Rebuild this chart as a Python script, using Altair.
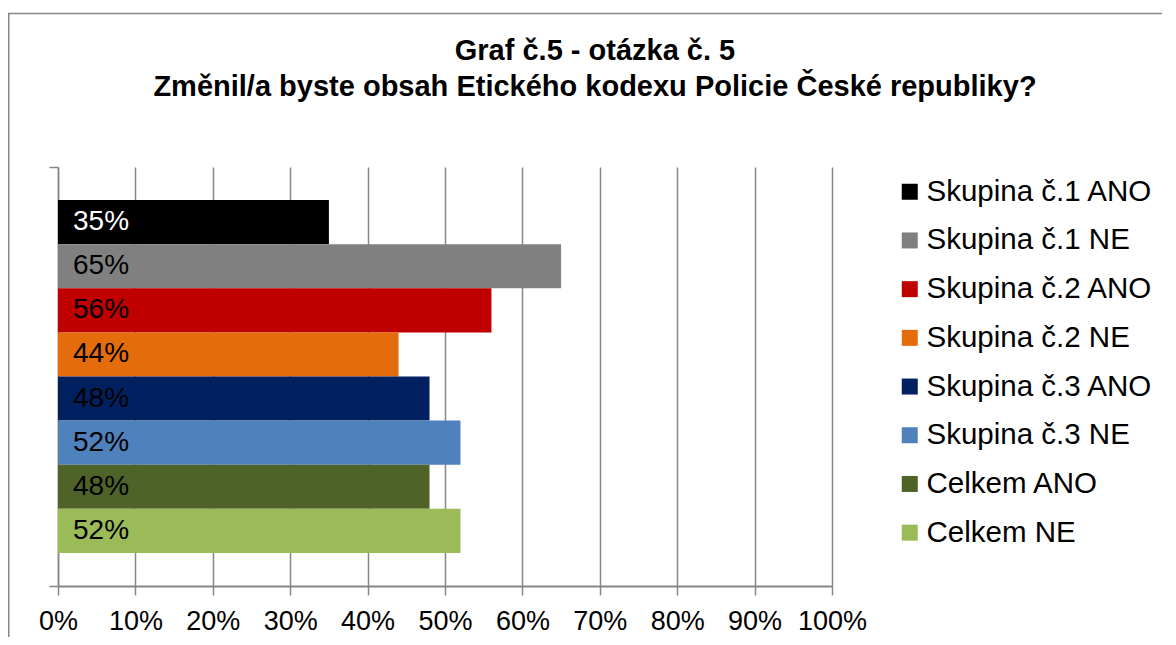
import altair as alt
import pandas as pd

# ---- data ----
category = ["Otázka č. 5"]
series = [
    "Skupina č.1 ANO", "Skupina č.1 NE",
    "Skupina č.2 ANO", "Skupina č.2 NE",
    "Skupina č.3 ANO", "Skupina č.3 NE",
    "Celkem ANO", "Celkem NE",
]
values = [0.35, 0.65, 0.56, 0.44, 0.48, 0.52, 0.48, 0.52]
labels = ["35%", "65%", "56%", "44%", "48%", "52%", "48%", "52%"]
bar_colors = ["#000000", "#808080", "#C00000", "#E46C0A",
              "#002060", "#4F81BD", "#4F6228", "#9BBB59"]
label_colors = ["#FFFFFF", "#000000", "#000000", "#000000",
                "#000000", "#000000", "#000000", "#000000"]
x_ticks = [0, 0.1, 0.2, 0.3, 0.4, 0.5, 0.6, 0.7, 0.8, 0.9, 1.0]
title_lines = ["Graf č.5 - otázka č. 5",
               "Změnil/a byste obsah Etického kodexu Policie České republiky?"]

FONT = "Liberation Sans"
GRID = "#868686"

df = pd.DataFrame({
    "cat": category * len(series),
    "series": series,
    "value": values,
    "label": labels,
    "lc": label_colors,
    "base": [0.0] * len(series),
})

y_enc = alt.Y(
    "cat:N",
    scale=alt.Scale(paddingInner=0, paddingOuter=0),
    axis=alt.Axis(labels=False, title=None, grid=False, ticks=True,
                  tickBand="extent", tickSize=9, tickColor=GRID,
                  tickWidth=1.5, domainColor=GRID, domainWidth=1.5),
)
yoff_enc = alt.YOffset("series:N", sort=series,
                       scale=alt.Scale(paddingInner=0, paddingOuter=0.75))

bars = alt.Chart(df).mark_bar(cornerRadius=0).encode(
    x=alt.X("value:Q",
            scale=alt.Scale(domain=[0, 1], nice=False),
            axis=alt.Axis(values=x_ticks, format=".0%", title=None,
                          grid=True, gridColor=GRID, gridWidth=1.5,
                          tickSize=9, tickColor=GRID, tickWidth=1.5,
                          domainColor=GRID, domainWidth=2,
                          labelFont=FONT, labelFontSize=27,
                          labelColor="#000000", labelPadding=13,
                          labelFlush=False)),
    y=y_enc,
    yOffset=yoff_enc,
    color=alt.Color("series:N", sort=series,
                    scale=alt.Scale(domain=series, range=bar_colors),
                    legend=alt.Legend(orient="none", legendX=837, legendY=10,
                                      title=None, symbolType="square",
                                      symbolSize=256, symbolStrokeWidth=0,
                                      labelFont=FONT, labelFontSize=29.5,
                                      labelColor="#000000", labelOffset=2,
                                      rowPadding=17.7, padding=0,
                                      labelLimit=400)),
)

texts = alt.Chart(df).mark_text(align="left", baseline="middle", dx=15,
                                font=FONT, fontSize=28).encode(
    x=alt.X("base:Q"),
    y=y_enc,
    yOffset=yoff_enc,
    text="label:N",
    color=alt.Color("lc:N", scale=None, legend=None),
)

frame = alt.Chart(pd.DataFrame({"k": [0]})).mark_rect(
    fill="transparent", stroke=GRID, strokeWidth=1.5
).encode(x=alt.value(-49.25), y=alt.value(-153.5),
         x2=alt.value(1400), y2=alt.value(900))

chart = alt.layer(frame, bars, texts).resolve_scale(
    color="independent"
).properties(
    width=774,
    height=419,
    padding={"left": 50, "top": 159, "right": 330, "bottom": 51},
    autosize=alt.AutoSizeParams(type="none"),
    title=alt.TitleParams(title_lines, font=FONT, fontSize=29,
                          fontWeight="bold", color="#000000",
                          anchor="middle", frame="group", dx=150,
                          lineHeight=36, offset=-89),
).configure_view(stroke=None)

chart.save("out.html", embed_options={"renderer": "svg", "actions": False})
